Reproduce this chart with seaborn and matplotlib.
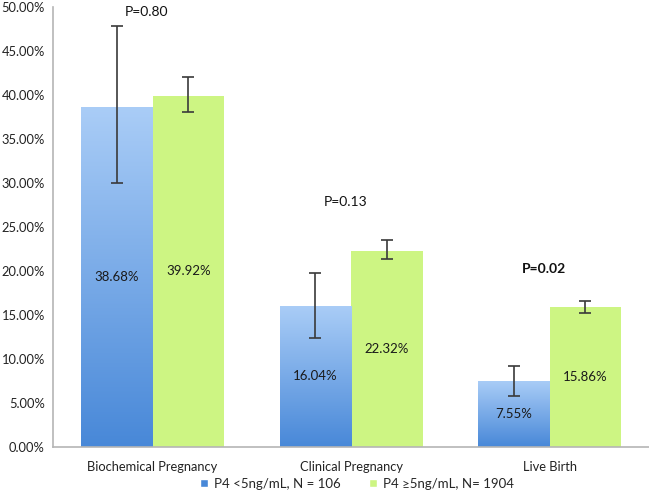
import numpy as np
import pandas as pd
import matplotlib
matplotlib.use("Agg")
import matplotlib.pyplot as plt
import seaborn as sns
from matplotlib.patches import Patch
from matplotlib.colors import LinearSegmentedColormap
from matplotlib.ticker import FuncFormatter

# data
outcomes = ["Biochemical Pregnancy", "Clinical Pregnancy", "Live Birth"]
groups = ["P4 <5ng/mL, N = 106", "P4 \u22655ng/mL, N= 1904"]
low_p4 = [38.68, 16.04, 7.55]
high_p4 = [39.92, 22.32, 15.86]
low_err_lo = [30.0, 12.4, 5.8]
low_err_hi = [47.9, 19.8, 9.2]
high_err_lo = [38.1, 21.4, 15.2]
high_err_hi = [42.1, 23.5, 16.6]
p_values = ["P=0.80", "P=0.13", "P=0.02"]
p_heights = [49.4, 27.9, 20.2]

df = pd.DataFrame({
    "outcome": outcomes * 2,
    "group": [groups[0]] * 3 + [groups[1]] * 3,
    "rate": low_p4 + high_p4,
})

blue_top, blue_bot = "#aacdf7", "#4888d8"
green = "#cdf583"

sns.set_style("white")
plt.rcParams["font.family"] = ["Lato", "DejaVu Sans"]

fig = plt.figure(figsize=(6.49, 5.04), dpi=100)
ax = fig.add_axes([0.082, 0.113, 0.918, 0.873])

sns.barplot(data=df, x="outcome", y="rate", hue="group", order=outcomes,
            hue_order=groups, palette=[blue_bot, green], width=0.72,
            saturation=1, errorbar=None, ax=ax, legend=False, linewidth=0)

bars = ax.patches
blue_bars = bars[:3]
green_bars = bars[3:6]

# gradient fill for the blue bars
cmap = LinearSegmentedColormap.from_list("blu", [blue_bot, blue_top])
grad = np.linspace(0, 1, 256).reshape(-1, 1)
for b in blue_bars:
    x0, w, h = b.get_x(), b.get_width(), b.get_height()
    im = ax.imshow(grad, cmap=cmap, origin="lower", aspect="auto",
                   extent=(x0, x0 + w, 0, h), zorder=b.get_zorder())
    im.set_clip_path(b)
    b.set_facecolor("none")

# error bars and value labels
for bset, vals, lo, hi in [(blue_bars, low_p4, low_err_lo, low_err_hi),
                           (green_bars, high_p4, high_err_lo, high_err_hi)]:
    for b, v, l, u in zip(bset, vals, lo, hi):
        xc = b.get_x() + b.get_width() / 2
        ax.errorbar(xc, v, yerr=[[v - l], [u - v]], fmt="none", ecolor="#3a3a3a",
                    elinewidth=1.2, capsize=4, capthick=1.2, zorder=5)
        ax.text(xc, v / 2, f"{v:.2f}%", ha="center", va="center",
                fontsize=9.5, color="#1a1a1a", zorder=6)

for i, (p, ph) in enumerate(zip(p_values, p_heights)):
    ax.text(i - 0.03, ph, p, ha="center", va="center", fontsize=10,
            fontweight="bold" if i == 2 else "normal", color="#111111")

ax.set_xlim(-0.5, 2.5)
ax.set_ylim(0, 50)
ax.set_yticks(np.arange(0, 50.1, 5))
ax.yaxis.set_major_formatter(FuncFormatter(lambda v, _: f"{v:.2f}%"))
ax.set_xlabel("")
ax.set_ylabel("")
ax.tick_params(axis="both", length=0, labelsize=9.3, colors="#222222")
ax.tick_params(axis="x", pad=10)
ax.tick_params(axis="y", pad=6)
for s in ["top", "right"]:
    ax.spines[s].set_visible(False)
for s in ["left", "bottom"]:
    ax.spines[s].set_color("#b5b5b5")
    ax.spines[s].set_linewidth(1.2)

handles = [Patch(facecolor=blue_bot, label=groups[0]),
           Patch(facecolor=green, label=groups[1])]
fig.legend(handles=handles, loc="center", bbox_to_anchor=(0.55, 0.04), ncol=2,
           frameon=False, fontsize=9.5, handlelength=0.6, handleheight=0.6,
           handletextpad=0.4, columnspacing=2.2)

fig.savefig("out.png", dpi=100)
